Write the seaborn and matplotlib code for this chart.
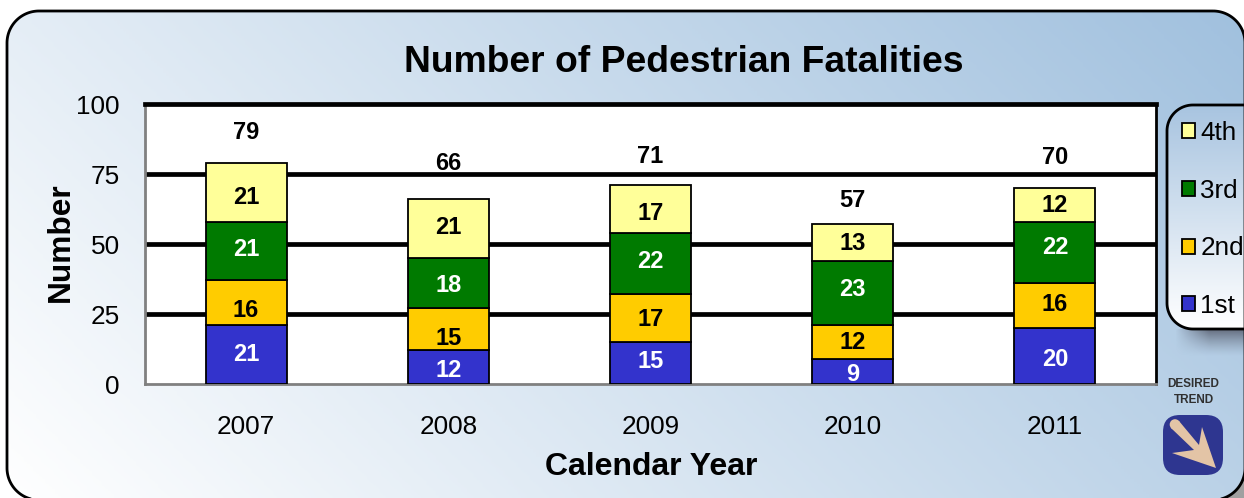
import numpy as np
import matplotlib
matplotlib.use("Agg")
import matplotlib.pyplot as plt
from matplotlib.patches import FancyBboxPatch, Polygon, Rectangle, Circle
from matplotlib.colors import LinearSegmentedColormap
import seaborn as sns

years = ["2007", "2008", "2009", "2010", "2011"]
quarters = ["1st", "2nd", "3rd", "4th"]
q1 = [21, 12, 15, 9, 20]
q2 = [16, 15, 17, 12, 16]
q3 = [21, 18, 22, 23, 22]
q4 = [21, 21, 17, 13, 12]
totals = [79, 66, 71, 57, 70]
series = [q1, q2, q3, q4]
colors = ["#3333CC", "#FFCC00", "#007A00", "#FFFF99"]
text_colors = ["white", "black", "white", "black"]
total_gaps = [11, 12.7, 10.4, 8.4, 11]
# label nudges in pixels (downwards), per quarter
nudge_q1 = [-1, 2, -2, 2, 3]
nudge_q2 = [7, 8, 0, 0, -2]
nudge_q3 = [-2, 1, -3, -4, -6]
nudge_q4 = [4, -2, 4, 0, 0]
nudges = [nudge_q1, nudge_q2, nudge_q3, nudge_q4]

W, H = 1244, 498
sns.set_theme(style="white")
plt.rcParams["font.family"] = ["Liberation Sans", "DejaVu Sans"]
fig = plt.figure(figsize=(W / 100, H / 100), dpi=100, facecolor="white")

# Background layer in pixel coordinates
bg = fig.add_axes([0, 0, 1, 1], zorder=0)
bg.set_xlim(0, W)
bg.set_ylim(H, 0)
bg.axis("off")

def rounded(x0, y0, x1, y1, r):
    pts = []
    for cx, cy, a0 in [(x1 - r, y0 + r, -90), (x1 - r, y1 - r, 0),
                       (x0 + r, y1 - r, 90), (x0 + r, y0 + r, 180)]:
        a = np.radians(np.linspace(a0, a0 + 90, 40))
        pts.append(np.column_stack([cx + r * np.cos(a), cy + r * np.sin(a)]))
    return np.vstack(pts)

def gradient(ax, extent, clip, low, high, fx, fy):
    x0, x1, y0, y1 = extent
    yy, xx = np.mgrid[0:1:200j, 0:1:400j]
    t = fx * xx + fy * (1 - yy)
    cmap = LinearSegmentedColormap.from_list("g", [low, high])
    im = ax.imshow(t, extent=(x0, x1, y1, y0), cmap=cmap, vmin=0, vmax=1,
                   aspect="auto", zorder=1, interpolation="bilinear")
    im.set_clip_path(clip)

# outer-corner shadow
bg.add_patch(Rectangle((1205, 460), 39, 38, fc="#A0A0A0", ec="none", zorder=0.5))

outline = rounded(7, 11, 1245, 500, 32)
panel = Polygon(outline, closed=True, fc="none", ec="none")
bg.add_patch(panel)
gradient(bg, (0, W, 0, H), panel, "#FFFFFF", "#A0C0DE", 0.72, 0.28)
bg.add_patch(Polygon(outline, closed=True, fc="none", ec="black", lw=2, zorder=3))

# legend panel soft shadow
yy, xx = np.mgrid[0:1:40j, 0:1:80j]
shadow = np.zeros((40, 80, 4))
shadow[..., :3] = (0.32, 0.34, 0.40)
shadow[..., 3] = 0.8 * (1 - yy) ** 1.4 * np.clip(xx * 2.0, 0, 1)
bg.imshow(shadow, extent=(1175, W, 357, 329), aspect="auto", zorder=1.5,
          interpolation="bilinear")

box_outline = rounded(1167, 105, 1287, 329, 26)
box = Polygon(box_outline, closed=True, fc="none", ec="none")
bg.add_patch(box)
gradient(bg, (1167, W, 105, 329), box, "#FFFFFF", "#A8C4E0", 0.0, 1.0)
bg.set_xlim(0, W)
bg.set_ylim(H, 0)
bg.add_patch(Polygon(box_outline, closed=True, fc="none", ec="black", lw=2, zorder=3))

# desired-trend badge
bg.text(1193.5, 384, "DESIRED", ha="center", va="center", fontsize=8.5,
        fontweight="bold", color="#303030")
bg.text(1193.5, 400, "TREND", ha="center", va="center", fontsize=8.5,
        fontweight="bold", color="#303030")
bg.add_patch(FancyBboxPatch((1163, 415), 60, 60, boxstyle="round,pad=0,rounding_size=17",
                            fc="#2E3690", ec="none", zorder=3))
bg.add_patch(Polygon([(1179, 421), (1199, 445), (1202, 427), (1216, 468), (1172, 453),
                      (1194, 450), (1171, 428)],
                     closed=True, fc="#E3C4A6", ec="none", zorder=4))
bg.add_patch(Circle((1175, 424.5), 5.3, fc="#E3C4A6", ec="none", zorder=4))

# Main chart
ax = fig.add_axes([145 / W, 1 - 384 / H, (1156 - 145) / W, (384 - 104) / H], zorder=2)
ax.set_facecolor("white")
bottom = np.zeros(len(years))
for vals, name, col in zip(series, quarters, colors):
    sns.barplot(x=years, y=vals, bottom=bottom, color=col, saturation=1, width=0.4,
                edgecolor="black", linewidth=1.3, ax=ax, label=name, zorder=3)
    bottom = bottom + np.array(vals)

ax.set_xlim(-0.5, 4.5)
ax.set_ylim(0, 100)
ax.set_yticks([0, 25, 50, 75, 100])
ax.set_axisbelow(True)
ax.grid(axis="y", color="black", lw=3.4)
ax.yaxis.get_gridlines()[0].set_visible(False)
ax.yaxis.get_gridlines()[-1].set_visible(False)
ax.tick_params(axis="both", labelsize=18.8, length=0, colors="black")
ax.tick_params(axis="x", pad=22)
ax.tick_params(axis="y", pad=18)
for lab in ax.get_yticklabels():
    lab.set_va("center_baseline")
for side, c, w in [("left", "#808080", 2), ("bottom", "#808080", 2),
                   ("top", "black", 3.4), ("right", "black", 2)]:
    ax.spines[side].set_visible(True)
    ax.spines[side].set_color(c)
    ax.spines[side].set_linewidth(w)

cum = np.zeros(len(years))
for vals, tc, nud in zip(series, text_colors, nudges):
    for i, v in enumerate(vals):
        ax.text(i, cum[i] + v / 2 - 0.3 - nud[i] / 2.8, str(v), ha="center", va="center",
                fontsize=17, fontweight="bold", color=tc, zorder=5)
    cum = cum + np.array(vals)
for i, (t, g) in enumerate(zip(totals, total_gaps)):
    ax.text(i, t + g, str(t), ha="center", va="center", fontsize=17,
            fontweight="bold", color="black", zorder=5)

ax.set_xlabel("")
ax.set_ylabel("")
fig.text(61 / W, 1 - 242 / H, "Number", rotation=90, ha="center", va="center",
         fontsize=22.8, fontweight="bold", color="black")
fig.text(651 / W, 1 - 467 / H, "Calendar Year", ha="center", va="center",
         fontsize=23, fontweight="bold", color="black")
fig.text(684 / W, 1 - 63 / H, "Number of Pedestrian Fatalities", ha="center", va="center",
         fontsize=26.8, fontweight="bold", color="black")

handles, labels = ax.get_legend_handles_labels()
seen = {}
for h, l in zip(handles, labels):
    seen.setdefault(l, h)
order = quarters[::-1]
leg = ax.legend([seen[k] for k in order], order, frameon=False, fontsize=18.8,
                loc="center left", bbox_to_anchor=(1182 / W, 1 - 219.5 / H),
                bbox_transform=fig.transFigure, borderpad=0, borderaxespad=0,
                labelspacing=1.29, handlelength=0.5, handleheight=0.5, handletextpad=0.2)
for t in leg.get_texts():
    t.set_color("black")
for h in leg.legend_handles:
    h.set_edgecolor("black")
    h.set_linewidth(1.3)
leg.set_zorder(10)

fig.savefig("out.png", dpi=100, facecolor="white")
